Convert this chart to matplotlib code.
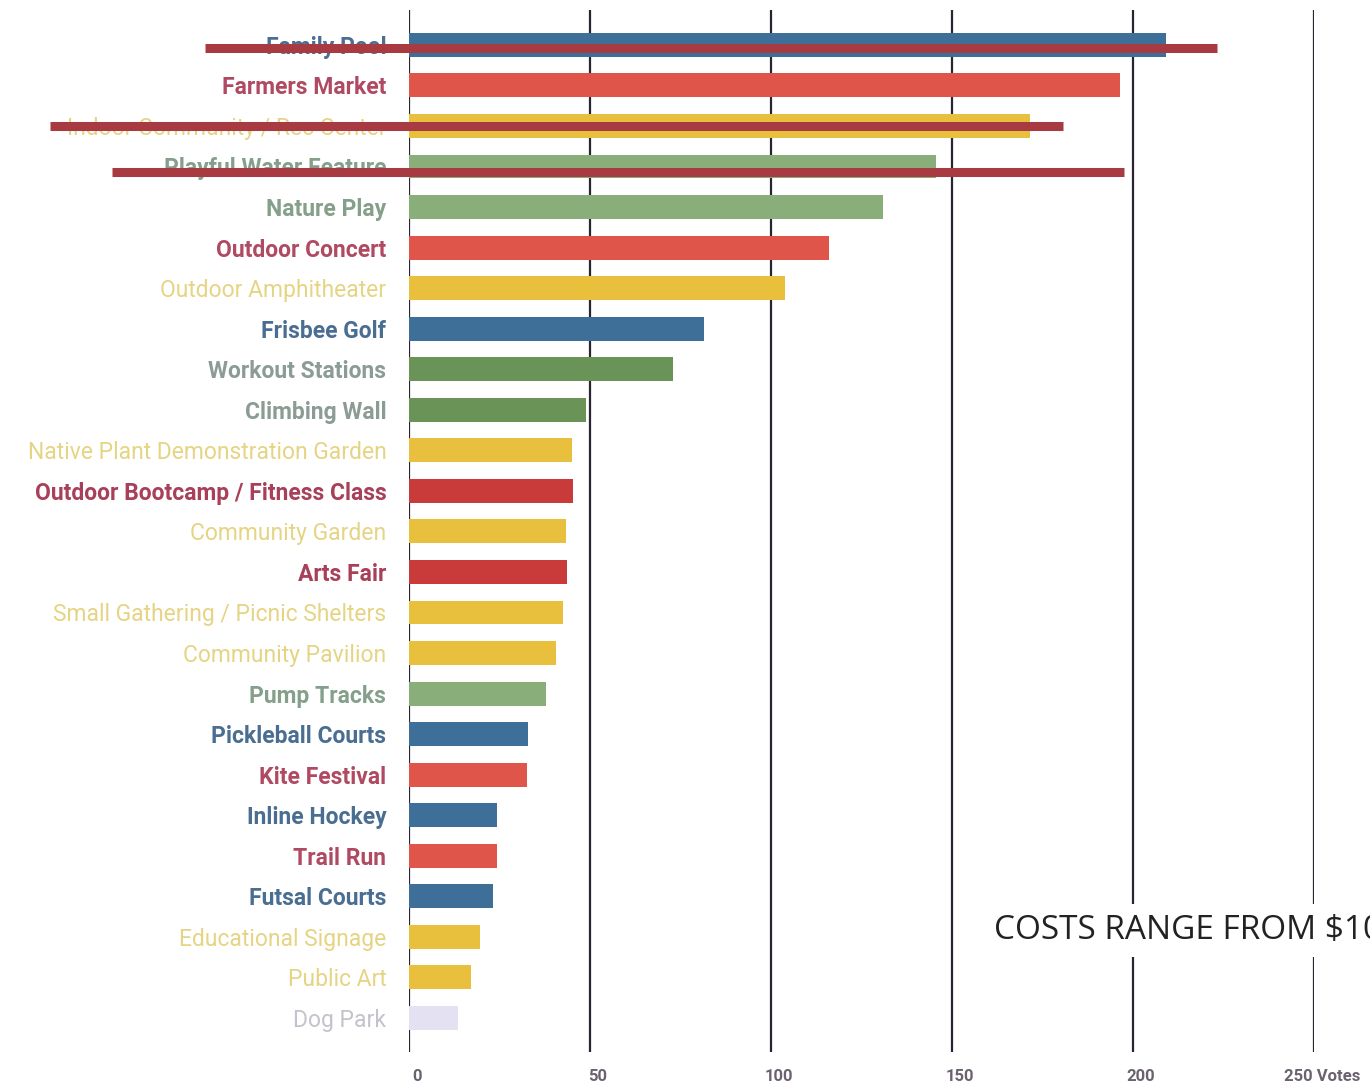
import matplotlib.pyplot as plt
from matplotlib.transforms import ScaledTranslation

# Votes per amenity (top to bottom as shown)
amenities = [
    "Family Pool", "Farmers Market", "Indoor Community / Rec Center",
    "Playful Water Feature", "Nature Play", "Outdoor Concert",
    "Outdoor Amphitheater", "Frisbee Golf", "Workout Stations",
    "Climbing Wall", "Native Plant Demonstration Garden",
    "Outdoor Bootcamp / Fitness Class", "Community Garden", "Arts Fair",
    "Small Gathering / Picnic Shelters", "Community Pavilion", "Pump Tracks",
    "Pickleball Courts", "Kite Festival", "Inline Hockey", "Trail Run",
    "Futsal Courts", "Educational Signage", "Public Art", "Dog Park",
]
votes = [209, 196.5, 171.5, 145.5, 131, 116, 104, 81.5, 73, 49,
         45, 45.3, 43.5, 43.8, 42.7, 40.7, 38, 33, 32.6, 24.4, 24.4,
         23.2, 19.8, 17.3, 13.6]
groups = ["blue", "red", "yellow", "green", "green", "red", "yellow", "blue",
          "dkgreen", "dkgreen", "yellow", "dkred", "yellow", "dkred", "yellow",
          "yellow", "green", "blue", "red", "blue", "red", "blue", "yellow",
          "yellow", "lilac"]

xticks = [0, 50, 100, 150, 200, 250]
xtick_labels = ["0", "50", "100", "150", "200", "250 Votes"]

# hand-drawn strike-throughs: (row, start, end, offset within row)
strikes = [(0, -56.2, 223.2, 0.09), (2, -99.0, 180.6, 0.0), (3, -81.8, 197.6, 0.13)]

bar_colors = {"blue": "#3d6f98", "red": "#e0554a", "dkred": "#c93a3b",
              "yellow": "#e8c03e", "green": "#8aae7a", "dkgreen": "#6a9457",
              "lilac": "#e3e1f2"}
label_colors = {"blue": "#4a6e92", "red": "#b04a62", "dkred": "#a8405a",
                "yellow": "#e6d485", "green": "#84a08a", "dkgreen": "#8c9c94",
                "lilac": "#c4c2cc"}
bold_groups = {"blue", "red", "dkred", "green", "dkgreen"}

plt.rcParams['font.family'] = ['Roboto', 'DejaVu Sans']

fig = plt.figure(figsize=(13.7, 10.84), dpi=100)
ax = fig.add_axes([0.2982, 0.0295, 0.661, 0.9613])

rows = list(range(len(amenities)))
ax.barh(rows, votes, height=0.59, color=[bar_colors[g] for g in groups], zorder=2)

for x in xticks:
    ax.axvline(x, color="#2a2430", lw=1.6, zorder=1)

ax.set_xlim(0, 250)
ax.set_ylim(24.84, -0.86)
for s in ax.spines.values():
    s.set_visible(False)

ax.set_yticks(rows)
ax.set_yticklabels(amenities, fontsize=16.5)
for lab, g in zip(ax.get_yticklabels(), groups):
    lab.set_color(label_colors[g])
    lab.set_fontweight("bold" if g in bold_groups else "normal")
ax.tick_params(axis="y", length=0, pad=16)

ax.set_xticks(xticks)
ax.set_xticklabels(xtick_labels, fontsize=12, fontweight="bold", color="#6b6270")
ax.tick_params(axis="x", length=0, pad=12)
shift = ScaledTranslation(8 / 100, 0, fig.dpi_scale_trans)
for lab in ax.get_xticklabels():
    lab.set_transform(lab.get_transform() + shift)

for row, x0, x1, off in strikes:
    ax.plot([x0, x1], [row + off, row + off], color="#a83a42", lw=6.5,
            solid_capstyle="butt", clip_on=False, zorder=5)

ax.text(161.5, 21.85, "COSTS RANGE FROM $10", fontsize=24, family="Open Sans",
        color="#222222", va="center", ha="left", zorder=6, clip_on=False,
        bbox=dict(facecolor="white", edgecolor="none", boxstyle="square,pad=0.3"))

fig.savefig("out.png", dpi=100, facecolor="white")
